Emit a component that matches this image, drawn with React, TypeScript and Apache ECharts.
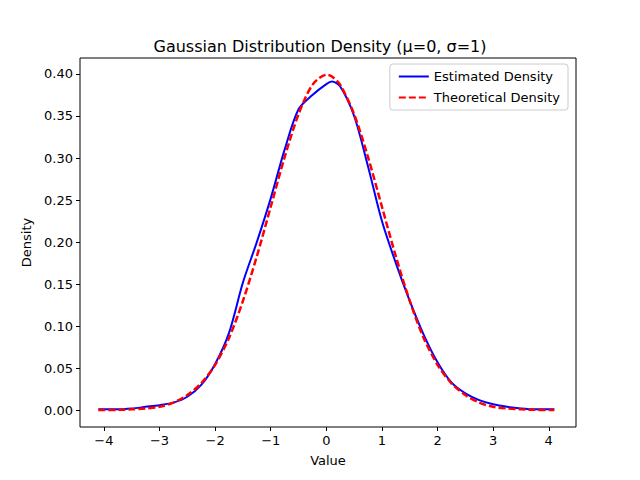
import React from 'react';
import * as echarts from 'echarts';

const xGrid = [-4.1, -3.75, -3.5, -3.25, -3, -2.75, -2.5, -2.25, -2, -1.75, -1.5, -1.25, -1, -0.75, -0.5, -0.25, 0, 0.1, 0.25, 0.5, 0.75, 1, 1.25, 1.5, 1.75, 2, 2.25, 2.5, 2.75, 3, 3.25, 3.5, 3.75, 4.1];
const estimated = [0.001, 0.001, 0.002, 0.004, 0.006, 0.009, 0.016, 0.03, 0.055, 0.092, 0.152, 0.2, 0.252, 0.31, 0.358, 0.375, 0.388, 0.391, 0.385, 0.35, 0.29, 0.225, 0.175, 0.13, 0.09, 0.057, 0.033, 0.02, 0.012, 0.007, 0.004, 0.002, 0.001, 0.001];
const theoretical = [0.0001, 0.0004, 0.001, 0.002, 0.004, 0.009, 0.018, 0.032, 0.054, 0.086, 0.13, 0.183, 0.242, 0.301, 0.352, 0.387, 0.399, 0.397, 0.387, 0.352, 0.301, 0.242, 0.183, 0.13, 0.086, 0.054, 0.032, 0.018, 0.009, 0.004, 0.002, 0.001, 0.0004, 0.0001];
const xTicks = [-4, -3, -2, -1, 0, 1, 2, 3, 4];
const yTicks = [0, 0.05, 0.1, 0.15, 0.2, 0.25, 0.3, 0.35, 0.4];

const font = 'DejaVu Sans';

const App: React.FC = () => {
  const ref = React.useRef<HTMLDivElement>(null);

  React.useEffect(() => {
    if (!ref.current) return;
    const chart = echarts.init(ref.current, null, { renderer: 'svg' });
    chart.setOption({
      animation: false,
      textStyle: { fontFamily: font },
      title: {
        text: 'Gaussian Distribution Density (μ=0, σ=1)',
        left: 'center', top: 33,
        textStyle: { fontFamily: font, fontSize: 16, fontWeight: 'normal', color: '#000' },
      },
      grid: { left: 80, right: 64, top: 58, bottom: 53, show: true, borderColor: '#000', borderWidth: 1 },
      legend: {
        orient: 'vertical', right: 72, top: 64, padding: [6, 8, 6, 8],
        borderColor: '#ccc', borderWidth: 1, borderRadius: 3, backgroundColor: '#fff',
        itemWidth: 30, itemHeight: 10, itemGap: 8,
        itemStyle: { opacity: 0 },
        textStyle: { fontFamily: font, fontSize: 13, color: '#000' },
        data: ['Estimated Density', 'Theoretical Density'],
      },
      xAxis: {
        type: 'value', min: -4.43, max: 4.49,
        name: 'Value', nameLocation: 'middle', nameGap: 27,
        nameTextStyle: { fontFamily: font, fontSize: 13, color: '#000' },
        axisLine: { show: false, onZero: false }, splitLine: { show: false },
        axisTick: { show: true, length: 4, lineStyle: { color: '#000' }, customValues: xTicks },
        axisLabel: {
          customValues: xTicks, color: '#000', fontSize: 13, margin: 7,
          formatter: (v: number) => String(v).replace('-', '−'),
        },
      },
      yAxis: {
        type: 'value', min: -0.02, max: 0.419,
        name: 'Density', nameLocation: 'middle', nameGap: 47,
        nameTextStyle: { fontFamily: font, fontSize: 13, color: '#000' },
        axisLine: { show: false, onZero: false }, splitLine: { show: false },
        axisTick: { show: true, length: 4, lineStyle: { color: '#000' }, customValues: yTicks },
        axisLabel: {
          customValues: yTicks, color: '#000', fontSize: 13, margin: 7,
          formatter: (v: number) => v.toFixed(2),
        },
      },
      series: [
        {
          name: 'Estimated Density', type: 'line', smooth: 0.3, symbol: 'none',
          data: xGrid.map((x, i) => [x, estimated[i]]),
          lineStyle: { color: '#0000ff', width: 2 }, itemStyle: { color: '#0000ff' },
        },
        {
          name: 'Theoretical Density', type: 'line', smooth: 0.3, symbol: 'none',
          data: xGrid.map((x, i) => [x, theoretical[i]]),
          lineStyle: { color: '#ff0000', width: 2.5, type: [7, 3] }, itemStyle: { color: '#ff0000' },
        },
      ],
    });
    return () => chart.dispose();
  }, []);

  return <div ref={ref} style={{ width: 640, height: 480, margin: -8 }} />;
};

export default App;
